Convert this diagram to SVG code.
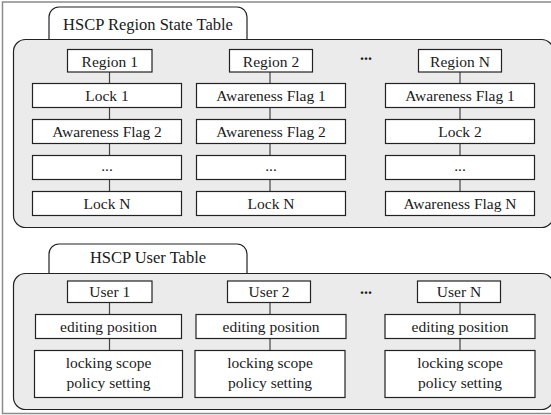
<svg xmlns="http://www.w3.org/2000/svg" width="551" height="415" viewBox="0 0 551 415">
<style>
text{font-family:"Liberation Serif","DejaVu Serif",serif;fill:#1a1a1a;text-anchor:middle}
.t{font-size:16.5px}
.b{font-size:15.5px}
.box{fill:#fff;stroke:#222;stroke-width:1.2}
.panel{fill:#ebebeb;stroke:#222;stroke-width:1.2}
.tab{fill:#fff;stroke:#222;stroke-width:1.2}
.c{stroke:#444;stroke-width:1.2;fill:none}
.dots{font-size:16px;font-weight:bold}
</style>
<rect x="2.5" y="2" width="570" height="411.5" fill="#fff" stroke="#8c8c8c" stroke-width="1.5"/>

<g id="region-table">
<path class="tab" d="M49,40 V17 A10,10 0 0 1 59,7 H237 A10,10 0 0 1 247,17 V40"/>
<text class="t" x="148" y="29.5">HSCP Region State Table</text>
<rect class="panel" x="13.5" y="39.5" width="540" height="188" rx="12"/>
</g>

<g id="user-table">
<path class="tab" d="M49,273.5 V254 A10,10 0 0 1 59,244 H237 A10,10 0 0 1 247,254 V273.5"/>
<text class="t" x="148" y="262.5">HSCP User Table</text>
<rect class="panel" x="13.5" y="273.5" width="540" height="136" rx="12"/>
</g>

<g id="connectors">
<path class="c" d="M109.5,72 V83.5 M109.5,107.5 V119.5 M109.5,143.5 V155.5 M109.5,179.5 V191.5"/>
<path class="c" d="M270,72 V83.5 M270,107.5 V119.5 M270,143.5 V155.5 M270,179.5 V191.5"/>
<path class="c" d="M460,72 V83.5 M460,107.5 V119.5 M460,143.5 V155.5 M460,179.5 V191.5"/>
<path class="c" d="M109.5,302.5 V314.5 M109.5,338.5 V350.5"/>
<path class="c" d="M270,302.5 V314.5 M270,338.5 V350.5"/>
<path class="c" d="M460,302.5 V314.5 M460,338.5 V350.5"/>
</g>

<g id="region1">
<rect class="box" x="67.5" y="49.5" width="84.5" height="22.5"/>
<text class="b" x="109.75" y="66.5">Region 1</text>
</g>
<g id="r1-lock1"><rect class="box" x="32.5" y="83.5" width="149" height="24"/><text class="b" x="107" y="100.5">Lock 1</text></g>
<g id="r1-flag2"><rect class="box" x="32.5" y="119.5" width="149" height="24"/><text class="b" x="107" y="136.5">Awareness Flag 2</text></g>
<g id="r1-more"><rect class="box" x="32.5" y="155.5" width="149" height="24"/><text class="b" x="107" y="171">...</text></g>
<g id="r1-lockn"><rect class="box" x="32.5" y="191.5" width="149" height="24"/><text class="b" x="107" y="208.5">Lock N</text></g>

<g id="region2">
<rect class="box" x="229.5" y="49.5" width="83" height="22.5"/>
<text class="b" x="271" y="66.5">Region 2</text>
</g>
<g id="r2-flag1"><rect class="box" x="196.5" y="83.5" width="149" height="24"/><text class="b" x="271" y="100.5">Awareness Flag 1</text></g>
<g id="r2-flag2"><rect class="box" x="196.5" y="119.5" width="149" height="24"/><text class="b" x="271" y="136.5">Awareness Flag 2</text></g>
<g id="r2-more"><rect class="box" x="196.5" y="155.5" width="149" height="24"/><text class="b" x="271" y="171">...</text></g>
<g id="r2-lockn"><rect class="box" x="196.5" y="191.5" width="149" height="24"/><text class="b" x="271" y="208.5">Lock N</text></g>

<g id="region-dots"><text class="dots" x="366" y="60">...</text></g>

<g id="regionN">
<rect class="box" x="418.5" y="49.5" width="83" height="22.5"/>
<text class="b" x="460" y="66.5">Region N</text>
</g>
<g id="rN-flag1"><rect class="box" x="385.5" y="83.5" width="149" height="24"/><text class="b" x="460" y="100.5">Awareness Flag 1</text></g>
<g id="rN-lock2"><rect class="box" x="385.5" y="119.5" width="149" height="24"/><text class="b" x="460" y="136.5">Lock 2</text></g>
<g id="rN-more"><rect class="box" x="385.5" y="155.5" width="149" height="24"/><text class="b" x="460" y="171">...</text></g>
<g id="rN-flagn"><rect class="box" x="385.5" y="191.5" width="149" height="24"/><text class="b" x="460" y="208.5">Awareness Flag N</text></g>

<g id="user1">
<rect class="box" x="67.5" y="281" width="84.5" height="21.5"/>
<text class="b" x="109.75" y="296.5">User 1</text>
</g>
<g id="u1-edit"><rect class="box" x="35.5" y="314.5" width="146" height="24"/><text class="b" x="108.5" y="331.5">editing position</text></g>
<g id="u1-lock"><rect class="box" x="34.5" y="350.5" width="148" height="47"/><text class="b" x="108.5" y="368">locking scope</text><text class="b" x="108.5" y="387.5">policy setting</text></g>

<g id="user2">
<rect class="box" x="227.5" y="281" width="83" height="21.5"/>
<text class="b" x="269" y="296.5">User 2</text>
</g>
<g id="u2-edit"><rect class="box" x="196" y="314.5" width="150" height="24"/><text class="b" x="271" y="331.5">editing position</text></g>
<g id="u2-lock"><rect class="box" x="195" y="350.5" width="150" height="47"/><text class="b" x="270" y="368">locking scope</text><text class="b" x="270" y="387.5">policy setting</text></g>

<g id="user-dots"><text class="dots" x="366" y="294">...</text></g>

<g id="userN">
<rect class="box" x="417.5" y="281" width="83" height="21.5"/>
<text class="b" x="459" y="296.5">User N</text>
</g>
<g id="uN-edit"><rect class="box" x="385" y="314.5" width="150" height="24"/><text class="b" x="460" y="331.5">editing position</text></g>
<g id="uN-lock"><rect class="box" x="385" y="350.5" width="150" height="47"/><text class="b" x="460" y="368">locking scope</text><text class="b" x="460" y="387.5">policy setting</text></g>
</svg>
